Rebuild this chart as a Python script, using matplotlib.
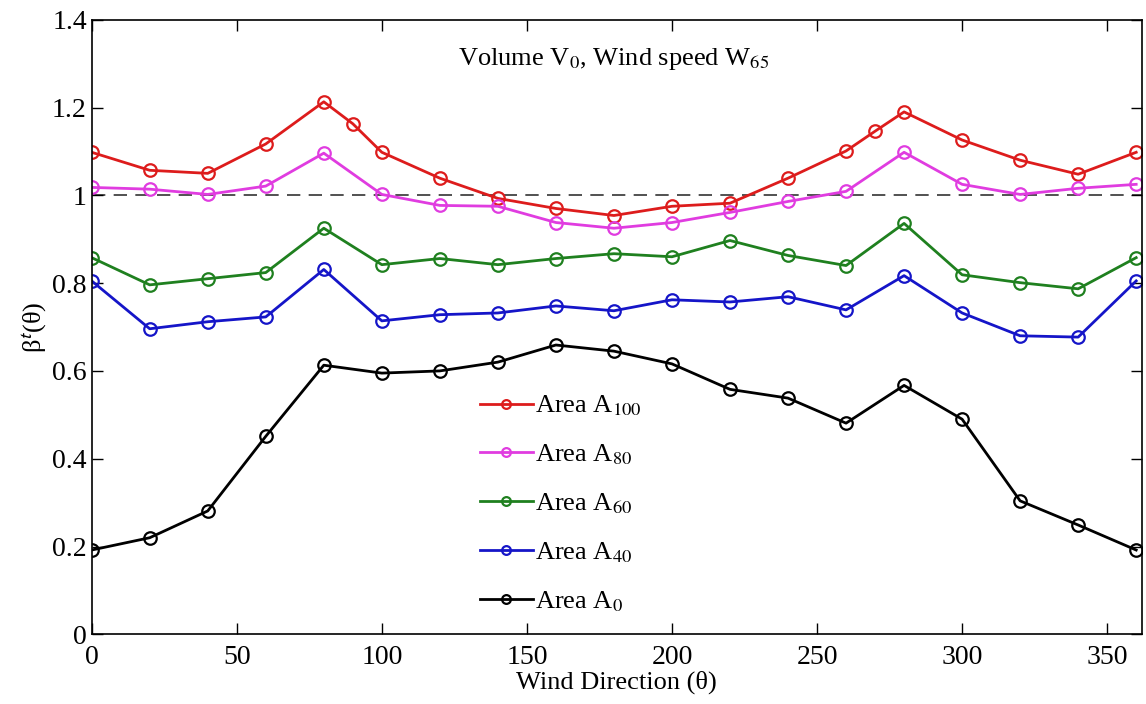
#!/usr/bin/env python3
"""
Wind direction dependence of beta^t for several areas (Volume V0, wind W65).
"""

import matplotlib
matplotlib.use("Agg")
import matplotlib.pyplot as plt

plt.rcParams['font.family'] = ['Liberation Serif', 'DejaVu Serif']
plt.rcParams['mathtext.fontset'] = 'stix'

# wind directions (deg); A100 has two extra points at 90 and 270
theta = [0, 20, 40, 60, 80, 100, 120, 140, 160, 180,
         200, 220, 240, 260, 280, 300, 320, 340, 360]
theta_a100 = [0, 20, 40, 60, 80, 90, 100, 120, 140, 160, 180,
              200, 220, 240, 260, 270, 280, 300, 320, 340, 360]

area_a100 = [1.098, 1.057, 1.050, 1.117, 1.213, 1.163, 1.098, 1.039, 0.993,
             0.970, 0.954, 0.975, 0.982, 1.039, 1.101, 1.146, 1.190, 1.126,
             1.080, 1.048, 1.098]
area_a80 = [1.018, 1.014, 1.002, 1.021, 1.096, 1.002, 0.977, 0.975, 0.938,
            0.925, 0.938, 0.961, 0.986, 1.009, 1.098, 1.025, 1.002, 1.016, 1.025]
area_a60 = [0.858, 0.796, 0.810, 0.824, 0.925, 0.842, 0.856, 0.842, 0.856,
            0.867, 0.860, 0.897, 0.863, 0.840, 0.936, 0.819, 0.801, 0.787, 0.858]
area_a40 = [0.805, 0.696, 0.712, 0.723, 0.831, 0.714, 0.728, 0.732, 0.748,
            0.737, 0.762, 0.757, 0.769, 0.739, 0.817, 0.732, 0.680, 0.677, 0.805]
area_a0 = [0.192, 0.220, 0.281, 0.451, 0.613, 0.595, 0.600, 0.620, 0.659,
           0.645, 0.616, 0.558, 0.538, 0.481, 0.567, 0.490, 0.304, 0.249, 0.192]

series = [
    (theta_a100, area_a100, r'Area A$_{100}$', '#dd1c1c'),
    (theta, area_a80, r'Area A$_{80}$', '#e03ce0'),
    (theta, area_a60, r'Area A$_{60}$', '#1f801f'),
    (theta, area_a40, r'Area A$_{40}$', '#1515c8'),
    (theta, area_a0, r'Area A$_{0}$', '#000000'),
]


def main():
    fig = plt.figure(figsize=(11.46, 7.04), dpi=100)
    ax = fig.add_axes([0.080, 0.099, 0.9165, 0.873])

    ax.axhline(1.0, color='#333333', lw=1.2, ls=(0, (8, 5)), zorder=1)
    for x, y, label, color in series:
        ax.plot(x, y, color=color, lw=2, marker='o', ms=9, mfc='none',
                mew=1.6, label=label)

    ax.set_xlim(0, 362)
    ax.set_ylim(0, 1.4)
    ax.set_xticks(range(0, 360, 50))
    ax.set_yticks([0, 0.2, 0.4, 0.6, 0.8, 1.0, 1.2, 1.4])
    ax.set_yticklabels(['0', '0.2', '0.4', '0.6', '0.8', '1', '1.2', '1.4'])
    ax.tick_params(direction='in', length=8, width=1, labelsize=20,
                   top=True, right=True)
    ax.tick_params(axis='x', pad=8)
    for side in ax.spines.values():
        side.set_linewidth(1.2)

    ax.set_xlabel('Wind Direction (θ)', fontsize=19, labelpad=0)
    ax.set_ylabel('β$^{\\mathsf{t}}$(θ)', fontsize=19, labelpad=2)

    ax.text(180, 1.31, r'Volume V$_0$, Wind speed W$_{65}$', fontsize=19,
            ha='center', va='center')

    ax.legend(loc='upper left', bbox_to_anchor=(0.347, 0.43), frameon=False,
              fontsize=19, handlelength=2.0, handletextpad=0.1,
              labelspacing=0.92, markerscale=0.7)

    fig.savefig('out.png', dpi=100)


if __name__ == "__main__":
    main()
